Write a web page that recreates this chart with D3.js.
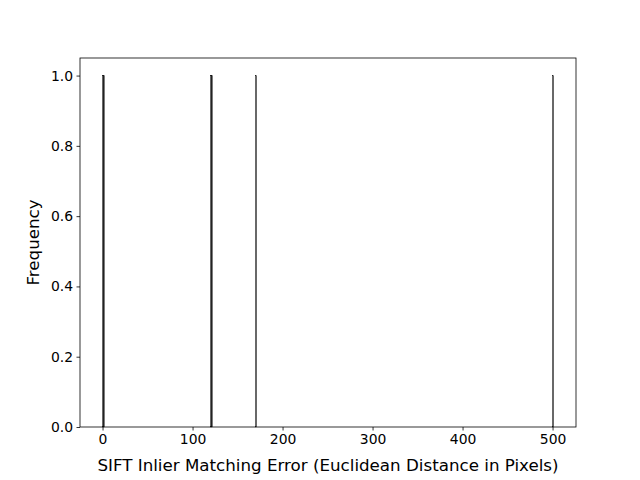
<!DOCTYPE html>
<html><head><meta charset="utf-8">
<script src="https://cdn.jsdelivr.net/npm/d3@7"></script>
<style>
body{margin:0;background:#fff;}
text{font-family:"DejaVu Sans",sans-serif;fill:#000;}
</style></head>
<body>
<svg id="chart" width="640" height="480"></svg>
<script>
// Error values (pixels), each falling in its own unit-width bin
const errorValues = [0.2, 1.2, 120.2, 121.2, 170.2, 500.2];
const binWidth = 1;
const xTicks = [0, 100, 200, 300, 400, 500];
const yTicks = [0.0, 0.2, 0.4, 0.6, 0.8, 1.0];
const xLabel = "SIFT Inlier Matching Error (Euclidean Distance in Pixels)";
const yLabel = "Frequency";

const svg = d3.select("#chart");
const L = 80, R = 576, T = 58, B = 427;

const lo = 0, hi = 501;
const pad = (hi - lo) * 0.05;
const x = d3.scaleLinear().domain([lo - pad, hi + pad]).range([L, R]);

const thresholds = d3.range(lo, hi + binWidth, binWidth);
const bins = d3.bin().domain([lo, hi]).thresholds(thresholds)(errorValues).filter(b => b.length > 0);
const maxC = d3.max(bins, b => b.length);
const y = d3.scaleLinear().domain([0, maxC * 1.05]).range([B, T]);

svg.append("g").selectAll("rect").data(bins).join("rect")
  .attr("x", d => x(d.x0))
  .attr("width", d => Math.max(0, x(d.x1) - x(d.x0)))
  .attr("y", d => y(d.length))
  .attr("height", d => y(0) - y(d.length))
  .attr("fill", "#000").attr("stroke", "#000").attr("stroke-width", 0.25);

const xAxis = svg.append("g").attr("transform", `translate(0,${B})`)
  .call(d3.axisBottom(x).tickValues(xTicks).tickFormat(d3.format("d")).tickSizeOuter(0).tickSize(3.5).tickPadding(3.5));
const yAxis = svg.append("g").attr("transform", `translate(${L},0)`)
  .call(d3.axisLeft(y).tickValues(yTicks).tickFormat(d3.format(".1f")).tickSizeOuter(0).tickSize(3.5).tickPadding(3.5));
[xAxis, yAxis].forEach(g => {
  g.select(".domain").remove();
  g.selectAll("line").attr("stroke", "#000").attr("stroke-width", 0.8);
  g.selectAll("text").attr("font-size", "13.9px").attr("font-family", "DejaVu Sans");
});

svg.append("rect").attr("x", L).attr("y", T).attr("width", R - L).attr("height", B - T)
  .attr("fill", "none").attr("stroke", "#000").attr("stroke-width", 0.8);

svg.append("text").attr("x", (L + R) / 2).attr("y", 471)
  .attr("text-anchor", "middle").attr("font-size", "16.7px").text(xLabel);
svg.append("text").attr("transform", `translate(39,${(T + B) / 2}) rotate(-90)`)
  .attr("text-anchor", "middle").attr("font-size", "16.7px").text(yLabel);
</script>
</body></html>
